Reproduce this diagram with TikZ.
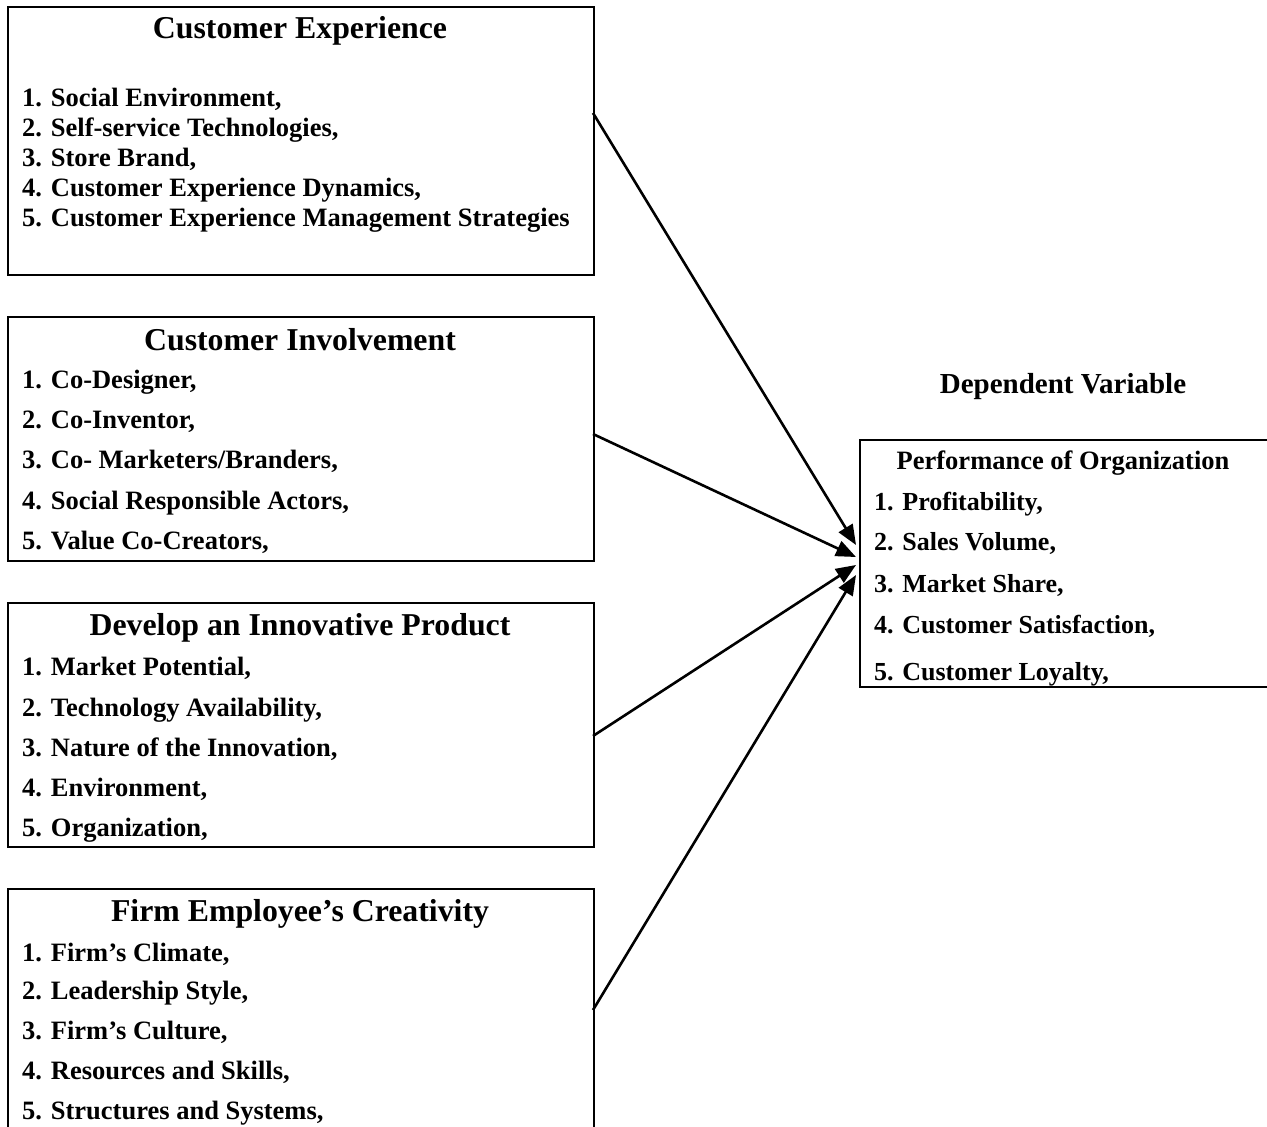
\documentclass[tikz,border=0pt]{standalone}
\usepackage{fontspec}
\setmainfont{Liberation Serif}
\usetikzlibrary{arrows.meta,calc}
\begin{document}
\begin{tikzpicture}[x=1pt,y=-1pt,
  boxline/.style={line width=2pt, draw=black},
  frame/.style={rectangle, inner sep=0pt, outer sep=0pt, minimum width=586pt},
  ttl/.style={font=\fontsize{31.8}{36}\selectfont\bfseries, inner sep=0pt, anchor=base},
  itm/.style={font=\fontsize{26.5}{30}\selectfont\bfseries, inner sep=0pt, anchor=base west},
  ritm/.style={font=\fontsize{26}{30}\selectfont\bfseries, inner sep=0pt, anchor=base west},
  arr/.style={line width=2.6pt, -{Triangle[length=20pt,width=16pt]}}
]
\useasboundingbox (0,0) rectangle (1267,1127);

% boxes
\node[frame, boxline, minimum height=268pt] (b1) at (301,141) {};
\node[frame, boxline, minimum height=244pt] (b2) at (301,439) {};
\node[frame, boxline, minimum height=244pt] (b3) at (301,725) {};
\node[frame, minimum height=244pt] (b4) at (301,1011) {};
\draw[boxline] (b4.south west) -- (b4.north west) -- (b4.north east) -- (b4.south east);
\node[rectangle, inner sep=0pt, outer sep=0pt, minimum width=412pt, minimum height=247pt] (b5) at (1066,563.5) {};
\draw[boxline] (b5.north east) -- (b5.north west) -- (b5.south west) -- (b5.south east);

% box 1
\node[ttl] (h1) at (300,38.5) {Customer Experience};
\node[itm] (a11) at (22,106.5) {1. Social Environment,};
\node[itm] (a12) at (22,136.5) {2. Self-service Technologies,};
\node[itm] (a13) at (22,166.5) {3. Store Brand,};
\node[itm] (a14) at (22,196.5) {4. Customer Experience Dynamics,};
\node[itm] (a15) at (22,226.5) {5. Customer Experience Management Strategies};

% box 2
\node[ttl] (h2) at (300,350) {Customer Involvement};
\node[itm] (a21) at (22,388.5) {1. Co-Designer,};
\node[itm] (a22) at (22,428) {2. Co-Inventor,};
\node[itm] (a23) at (22,468) {3. Co- Marketers/Branders,};
\node[itm] (a24) at (22,509.5) {4. Social Responsible Actors,};
\node[itm] (a25) at (22,549) {5. Value Co-Creators,};

% box 3
\node[ttl] (h3) at (300,635) {Develop an Innovative Product};
\node[itm] (a31) at (22,675) {1. Market Potential,};
\node[itm] (a32) at (22,716) {2. Technology Availability,};
\node[itm] (a33) at (22,756.5) {3. Nature of the Innovation,};
\node[itm] (a34) at (22,796.5) {4. Environment,};
\node[itm] (a35) at (22,836) {5. Organization,};

% box 4
\node[ttl] (h4) at (300,921) {Firm Employee’s Creativity};
\node[itm] (a41) at (22,961) {1. Firm’s Climate,};
\node[itm] (a42) at (22,999.5) {2. Leadership Style,};
\node[itm] (a43) at (22,1039) {3. Firm’s Culture,};
\node[itm] (a44) at (22,1079) {4. Resources and Skills,};
\node[itm] (a45) at (22,1119) {5. Structures and Systems,};

% right box
\node[font=\fontsize{29}{33}\selectfont\bfseries, inner sep=0pt, anchor=base] (dv) at (1063,393) {Dependent Variable};
\node[font=\fontsize{26.5}{30}\selectfont\bfseries, inner sep=0pt, anchor=base] (h5) at (1063,469) {Performance of Organization};
\node[ritm] (a51) at (874,510) {1. Profitability,};
\node[ritm] (a52) at (874,550) {2. Sales Volume,};
\node[ritm] (a53) at (874,592) {3. Market Share,};
\node[ritm] (a54) at (874,633) {4. Customer Satisfaction,};
\node[ritm] (a55) at (874,680) {5. Customer Loyalty,};

% connector ends
\coordinate (s1) at ($(b1.north east)+(-1,106)$);
\coordinate (s2) at ($(b2.north east)+(-1,117)$);
\coordinate (s3) at ($(b3.north east)+(-1,133)$);
\coordinate (s4) at ($(b4.north east)+(-1,121)$);
\coordinate (e1) at ($(b5.west)+(-4,-18.5)$);
\coordinate (e2) at ($(b5.west)+(-4,-6.5)$);
\coordinate (e3) at ($(b5.west)+(-4,1.5)$);
\coordinate (e4) at ($(b5.west)+(-4,11.5)$);

\draw[arr] (s1) -- (e1);
\draw[arr] (s2) -- (e2);
\draw[arr] (s3) -- (e3);
\draw[arr] (s4) -- (e4);
\end{tikzpicture}
\end{document}
